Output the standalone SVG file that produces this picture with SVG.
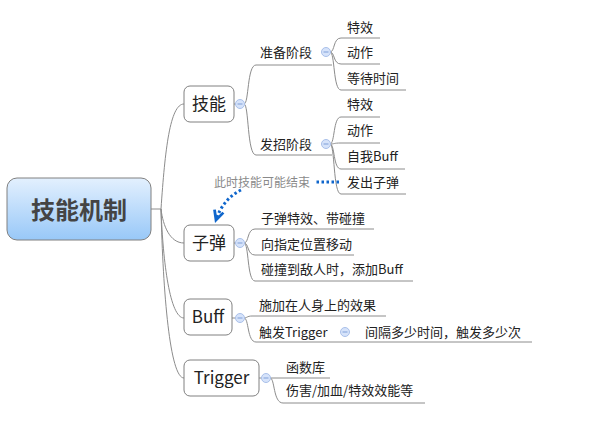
<svg xmlns="http://www.w3.org/2000/svg" width="593" height="429" viewBox="0 0 593 429">
<style>
.t{font-family:"Noto Sans CJK SC","Microsoft YaHei",sans-serif;fill:#222;}
.leaf{font-size:13px;}
.l1{font-size:17px;}
.box{fill:#fff;stroke:#808080;stroke-width:1;}
.ln{fill:none;stroke:#8c8c8c;stroke-width:1;}
.col{fill:#d6e3fa;stroke:#a9c0ea;stroke-width:1;}
.minus{stroke:#7f9fd8;stroke-width:1;}
.rel{fill:none;stroke:#0f66cc;stroke-width:3;stroke-dasharray:2.5 2.5;}
</style>
<defs>
<linearGradient id="g" x1="0" y1="0" x2="0" y2="1">
<stop offset="0" stop-color="#e3f0fe"/>
<stop offset="1" stop-color="#98c8f8"/>
</linearGradient>
<marker id="arr" markerUnits="userSpaceOnUse" markerWidth="14" markerHeight="14" refX="9" refY="5" orient="auto" viewBox="0 0 12 10">
<path d="M1,1 L9,5 L1,9" fill="none" stroke="#0f66cc" stroke-width="2.4"/>
</marker>
</defs>
<rect width="593" height="429" fill="#fff"/>

<g id="connectors">
<path class="ln" d="M151,209 L161,209"/>
<path class="ln" d="M161,209 C165,150 170,104 184,104"/>
<path class="ln" d="M161,209 C163,226 170,243 184,243"/>
<path class="ln" d="M161,209 C163,263 170,318 184,318"/>
<path class="ln" d="M161,209 C163,294 170,378 184,378"/>
<path class="ln" d="M234,104 L236,104"/>
<path class="ln" d="M244,104 C249,104 247,65 256,65 L332,65"/>
<path class="ln" d="M244,104 C249,104 247,155 256,155 L332,155"/>
<path class="ln" d="M330,52 C335,52 333,38 341,38 L380,38"/>
<path class="ln" d="M330,52 C335,52 333,64 341,64 L380,64"/>
<path class="ln" d="M330,52 C335,52 333,90 341,90 L406,90"/>
<path class="ln" d="M330,144 C335,144 333,117 341,117 L380,117"/>
<path class="ln" d="M330,144 C335,144 333,143 341,143 L380,143"/>
<path class="ln" d="M330,144 C335,144 333,169 341,169 L405,169"/>
<path class="ln" d="M330,144 C335,144 333,194 341,194 L406,194"/>
<path class="ln" d="M234,243 L236,243"/>
<path class="ln" d="M244,243 C249,243 247,229 255,229 L374,229"/>
<path class="ln" d="M244,243 C249,243 247,255 255,255 L354,255"/>
<path class="ln" d="M244,243 C249,243 247,281 255,281 L413,281"/>
<path class="ln" d="M232,318 L236,318"/>
<path class="ln" d="M244,318 C247,318 247,316 252,316 L386,316"/>
<path class="ln" d="M244,318 C249,318 247,342 256,342 L532,342"/>
<path class="ln" d="M259,378 L262,378"/>
<path class="ln" d="M270,378 L330,378"/>
<path class="ln" d="M270,378 C275,378 273,403 283,403 L425,403"/>
<path class="rel" d="M339,182 L314,182"/>
<path class="rel" d="M241,190 Q223,199 216,220" marker-end="url(#arr)"/>
<text class="t" x="214" y="186.5" font-size="12" style="fill:#8a8a8a">此时技能可能结束</text>
</g>

<g id="center">
<rect x="7" y="178" width="144" height="62" rx="10" fill="url(#g)" stroke="#808080"/>
<text class="t" x="79" y="218.5" font-size="24" font-weight="bold" text-anchor="middle" style="fill:#444">技能机制</text>
</g>

<g id="jineng">
<rect class="box" x="184" y="86" width="50" height="36" rx="6"/>
<text class="t l1" x="209" y="110" text-anchor="middle">技能</text>
<circle class="col" cx="240" cy="104" r="4.5"/><path class="minus" d="M237.5,104 H242.5"/>
</g>
<g id="zhunbei">
<text class="t leaf" x="260" y="57">准备阶段</text>
<circle class="col" cx="326" cy="52" r="4.5"/><path class="minus" d="M323.5,52 H328.5"/>
</g>
<g id="zb-texiao"><text class="t leaf" x="347" y="32">特效</text></g>
<g id="zb-dongzuo"><text class="t leaf" x="347" y="57">动作</text></g>
<g id="zb-dengdai"><text class="t leaf" x="347" y="83">等待时间</text></g>
<g id="fazhao">
<text class="t leaf" x="260" y="149">发招阶段</text>
<circle class="col" cx="326" cy="144" r="4.5"/><path class="minus" d="M323.5,144 H328.5"/>
</g>
<g id="fz-texiao"><text class="t leaf" x="347" y="109">特效</text></g>
<g id="fz-dongzuo"><text class="t leaf" x="347" y="135">动作</text></g>
<g id="fz-buff"><text class="t leaf" x="347" y="161">自我Buff</text></g>
<g id="fz-zidan"><text class="t leaf" x="347" y="187">发出子弹</text></g>

<g id="zidan">
<rect class="box" x="184" y="225" width="50" height="36" rx="6"/>
<text class="t l1" x="209" y="249" text-anchor="middle">子弹</text>
<circle class="col" cx="240" cy="243" r="4.5"/><path class="minus" d="M237.5,243 H242.5"/>
</g>
<g id="zd-1"><text class="t leaf" x="261" y="223">子弹特效、带碰撞</text></g>
<g id="zd-2"><text class="t leaf" x="261" y="249">向指定位置移动</text></g>
<g id="zd-3"><text class="t leaf" x="261" y="274">碰撞到敌人时，添加Buff</text></g>

<g id="buff">
<rect class="box" x="184" y="299" width="48" height="36" rx="6"/>
<text class="t l1" x="208" y="323" text-anchor="middle">Buff</text>
<circle class="col" cx="240" cy="318" r="4.5"/><path class="minus" d="M237.5,318 H242.5"/>
</g>
<g id="bf-1"><text class="t leaf" x="259" y="310">施加在人身上的效果</text></g>
<g id="bf-2">
<text class="t leaf" x="259" y="337">触发Trigger</text>
<circle class="col" cx="345" cy="332" r="4.5"/><path class="minus" d="M342.5,332 H347.5"/>
</g>
<g id="bf-2-1"><text class="t leaf" x="365" y="337">间隔多少时间，触发多少次</text></g>

<g id="trigger">
<rect class="box" x="184" y="360" width="75" height="36" rx="6"/>
<text class="t l1" x="221.5" y="384" text-anchor="middle">Trigger</text>
<circle class="col" cx="266" cy="378" r="4.5"/><path class="minus" d="M263.5,378 H268.5"/>
</g>
<g id="tg-1"><text class="t leaf" x="286" y="372">函数库</text></g>
<g id="tg-2"><text class="t leaf" x="286" y="395">伤害/加血/特效效能等</text></g>
</svg>
